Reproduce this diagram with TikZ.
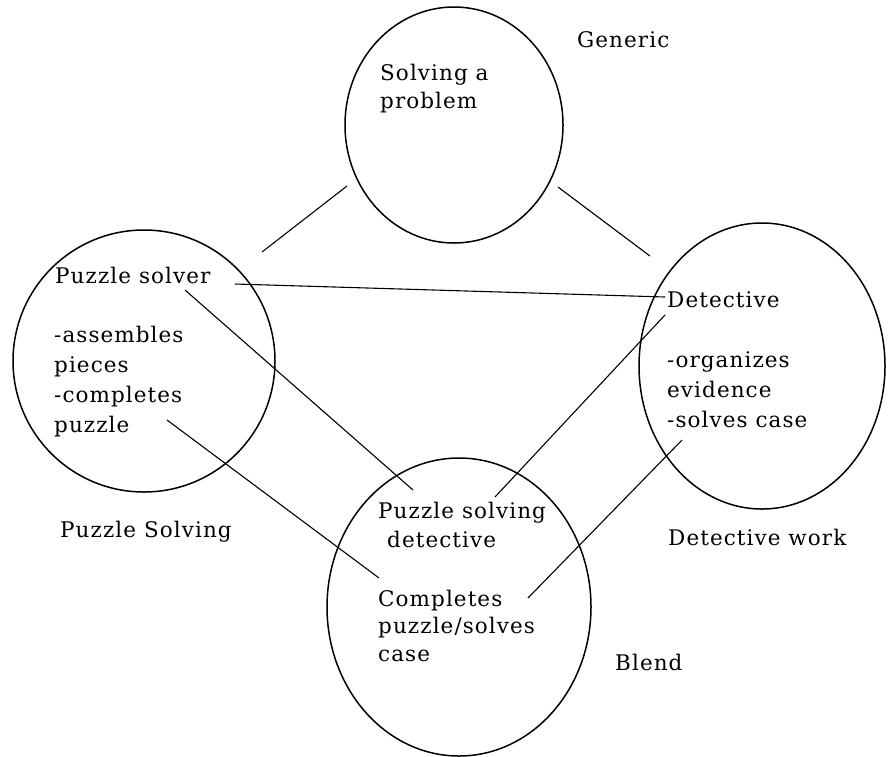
\documentclass[tikz,border=0pt]{standalone}
\usepackage{fontspec}
\setmainfont{DejaVu Serif}[LetterSpace=5]
\usetikzlibrary{shapes.geometric}
\begin{document}
\begin{tikzpicture}[x=1pt,y=-1pt,
  ring/.style={draw, ellipse, line width=1.5pt, inner sep=0pt, outer sep=0pt},
  txt/.style={anchor=base west, inner sep=0pt, align=left,
              font=\fontsize{21.5}{30}\selectfont},
  tight/.style={font=\fontsize{21.5}{27.5}\selectfont},
  mid/.style={font=\fontsize{21.5}{29}\selectfont},
  link/.style={line width=1.1pt}]
\useasboundingbox (0,0) rectangle (888,756);

% the four spaces
\node[ring, minimum width=218pt, minimum height=236pt] (generic) at (454,125) {};
\node[ring, minimum width=262pt, minimum height=262pt] (puzzle)  at (144,361) {};
\node[ring, minimum width=246pt, minimum height=286pt] (detect)  at (762,366) {};
\node[ring, minimum width=264pt, minimum height=298pt] (blend)   at (459,607) {};

% contents of the spaces (multi-line nodes sit on their last baseline)
\node[txt, tight] (gtext) at (380,108) {Solving a\\problem};
\node[txt] (gname) at (577,47) {Generic};

\node[txt] (ptitle) at (55,283) {Puzzle solver};
\node[txt] (plist)  at (54,432) {-assembles\\pieces\\-completes\\puzzle};
\node[txt] (pname)  at (60,537) {Puzzle Solving};

\node[txt] (dtitle) at (667,307) {Detective};
\node[txt] (dlist)  at (667,427) {-organizes\\evidence\\-solves case};
\node[txt] (dname)  at (668,545) {Detective work};

\node[txt, mid] (btitle) at (378,547) {Puzzle solving\\\hspace*{9pt}detective};
\node[txt, tight] (blist)  at (378,661) {Completes\\puzzle/solves\\case};
\node[txt] (bname)  at (615,670) {Blend};

% connector ends
\coordinate (g-l) at (347,186);
\coordinate (p-t) at (262,252);
\coordinate (g-r) at (558,187);
\coordinate (d-t) at (650,256);
\coordinate (ps-a) at (235,284);
\coordinate (dt-a) at (665,297);
\coordinate (ps-b) at (185,290);
\coordinate (bt-a) at (413,490);
\coordinate (pl-a) at (167,420);
\coordinate (bl-a) at (379,578);
\coordinate (dt-b) at (665,315);
\coordinate (bt-b) at (495,497);
\coordinate (dl-a) at (682,440);
\coordinate (bl-b) at (528,598);

% mappings between the spaces
\draw[link] (g-l) -- (p-t);
\draw[link] (g-r) -- (d-t);
\draw[link] (ps-a) -- (dt-a);
\draw[link] (ps-b) -- (bt-a);
\draw[link] (pl-a) -- (bl-a);
\draw[link] (dt-b) -- (bt-b);
\draw[link] (dl-a) -- (bl-b);
\end{tikzpicture}
\end{document}
